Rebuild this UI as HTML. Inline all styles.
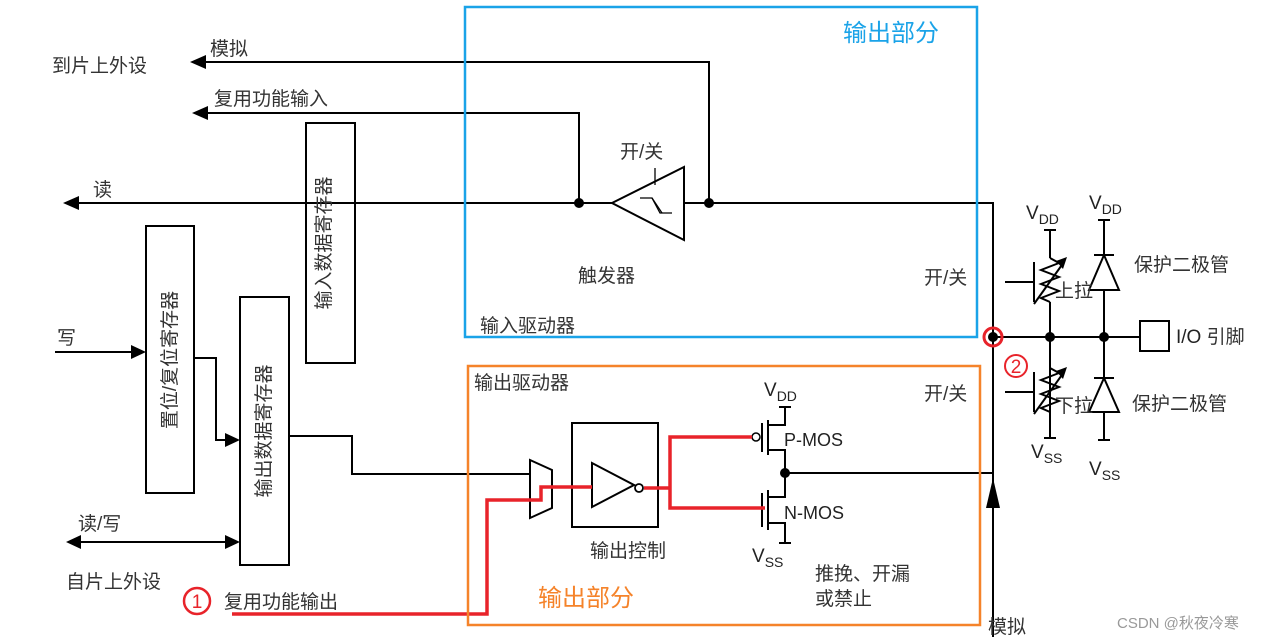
<!DOCTYPE html>
<html><head><meta charset="utf-8"><style>
html,body{margin:0;padding:0;background:#fff;}
svg{display:block;}
text{font-family:"Liberation Sans","Noto Sans CJK SC",sans-serif;fill:#222;}
.cn{font-size:19px;fill:#333;}
</style></head><body>
<svg width="1269" height="641" viewBox="0 0 1269 641" xmlns="http://www.w3.org/2000/svg">
<g stroke="#000" stroke-width="2" fill="none">
<polyline points="205,62 709,62 709,203"/>
<polyline points="207,113 579,113 579,203"/>
<line x1="78" y1="203" x2="612" y2="203"/>
<polyline points="684,203 993,203 993,637"/>
<rect x="306" y="123" width="49" height="240"/>
<rect x="146" y="226" width="48" height="267"/>
<rect x="240" y="297" width="49" height="268"/>
<line x1="55" y1="352" x2="132" y2="352"/>
<polyline points="194,358 216,358 216,440 226,440"/>
<polyline points="289,436 352,436 352,474 530,474"/>
<line x1="80" y1="542" x2="226" y2="542"/>
<polygon points="612,203 684,167 684,240"/>
<line x1="655" y1="168" x2="655" y2="185" stroke-width="1.3"/>
<polyline points="640,198 652,198 660,213 672,213" stroke-width="1.3"/>
<line x1="652" y1="198" x2="662" y2="213" stroke-width="1.3"/>
<polygon points="530,460 552,470 552,508 530,518"/>
<rect x="572" y="423" width="86" height="104"/>
<polygon points="592,463 592,507 634,485"/>
<circle cx="639" cy="488" r="4" stroke-width="1.8"/>
<line x1="762" y1="423" x2="762" y2="452"/>
<line x1="768" y1="420" x2="768" y2="455"/>
<polyline points="768,425 785,425 785,407"/>
<line x1="779" y1="407" x2="791" y2="407"/>
<polyline points="768,450 785,450 785,497 768,497"/>
<line x1="762" y1="493" x2="762" y2="527"/>
<line x1="768" y1="490" x2="768" y2="530"/>
<polyline points="768,523 785,523 785,543"/>
<line x1="779" y1="543" x2="791" y2="543"/>
<circle cx="756" cy="437" r="4" stroke-width="1.5" fill="#fff"/>
<line x1="785" y1="473" x2="993" y2="473"/>
<line x1="993" y1="337" x2="1140" y2="337"/>
<rect x="1140" y="321" width="29" height="30"/>
<line x1="1044" y1="230" x2="1056" y2="230"/>
<line x1="1050" y1="230" x2="1050" y2="258"/>
<polyline points="1050,258 1059,263 1041,270 1059,277 1041,284 1059,291 1041,298 1050,302"/>
<line x1="1050" y1="302" x2="1050" y2="438"/>
<line x1="1044" y1="438" x2="1056" y2="438"/>
<line x1="1034" y1="304" x2="1064" y2="262"/>
<line x1="1005" y1="282" x2="1034" y2="282"/>
<line x1="1034" y1="262" x2="1034" y2="302"/>
<polyline points="1050,368 1059,373 1041,380 1059,387 1041,394 1059,401 1041,408 1050,412"/>
<line x1="1034" y1="414" x2="1064" y2="372"/>
<line x1="1005" y1="392" x2="1034" y2="392"/>
<line x1="1034" y1="372" x2="1034" y2="412"/>
<line x1="1098" y1="220" x2="1110" y2="220"/>
<line x1="1104" y1="220" x2="1104" y2="440"/>
<line x1="1098" y1="440" x2="1110" y2="440"/>
<line x1="1094" y1="255" x2="1114" y2="255"/>
<polygon points="1104,255 1089,290 1119,290" fill="#fff"/>
<line x1="1094" y1="378" x2="1114" y2="378"/>
<polygon points="1104,378 1089,412 1119,412" fill="#fff"/>
</g>
<g fill="#000">
<polygon points="190,62 206,55 206,69"/>
<polygon points="192,113 208,106 208,120"/>
<polygon points="63,203 79,196 79,210"/>
<polygon points="146,352 131,345 131,359"/>
<polygon points="240,440 225,433 225,447"/>
<polygon points="240,542 225,535 225,549"/>
<polygon points="66,542 81,535 81,549"/>
<polygon points="993,478 986,508 1000,508"/>
<polygon points="1067,257 1056,261 1063,269"/>
<polygon points="1067,367 1056,371 1063,379"/>
<circle cx="579" cy="203" r="5"/><circle cx="709" cy="203" r="5"/>
<circle cx="785" cy="473" r="5"/>
<circle cx="993" cy="337" r="5"/><circle cx="1050" cy="337" r="5"/><circle cx="1104" cy="337" r="5"/>
</g>
<g stroke="#e8232a" stroke-width="3.5" fill="none">
<polyline points="232,614 487,614 487,500 541,500 541,487 592,487"/>
<polyline points="644,488 670,488"/>
<polyline points="752,437 670,437 670,508 765,508"/>
<circle cx="993" cy="337" r="9" stroke-width="3"/>
</g>
<circle cx="1016" cy="366" r="11" fill="none" stroke="#e8232a" stroke-width="2"/>
<text x="1016" y="373" font-size="19" text-anchor="middle" style="fill:#e8232a">2</text>
<circle cx="197" cy="601" r="13" fill="none" stroke="#e8232a" stroke-width="2.5"/>
<text x="197" y="608" font-size="19" text-anchor="middle" style="fill:#e8232a">1</text>
<rect x="465" y="7" width="512" height="330" fill="none" stroke="#1aa3e8" stroke-width="2.5"/>
<rect x="468" y="366" width="512" height="259" fill="none" stroke="#f5832a" stroke-width="2.5"/>
<text x="843" y="41" font-size="24" style="fill:#1aa3e8">输出部分</text>
<text x="538" y="606" font-size="24" style="fill:#f5832a">输出部分</text>
<text class="cn" x="52" y="72">到片上外设</text>
<text class="cn" x="210" y="55">模拟</text>
<text class="cn" x="214" y="105">复用功能输入</text>
<text class="cn" x="93" y="196">读</text>
<text class="cn" x="57" y="344">写</text>
<text class="cn" x="78" y="530">读/写</text>
<text class="cn" x="66" y="588">自片上外设</text>
<text class="cn" x="224" y="608">复用功能输出</text>
<text class="cn" x="620" y="158">开/关</text>
<text class="cn" x="578" y="282">触发器</text>
<text class="cn" x="924" y="284">开/关</text>
<text class="cn" x="480" y="332">输入驱动器</text>
<text class="cn" x="474" y="389">输出驱动器</text>
<text class="cn" x="924" y="400">开/关</text>
<text class="cn" x="590" y="557">输出控制</text>
<text class="cn" x="815" y="580">推挽、开漏</text>
<text class="cn" x="815" y="605">或禁止</text>
<text class="cn" x="988" y="633">模拟</text>
<text class="cn" x="1134" y="271">保护二极管</text>
<text class="cn" x="1132" y="410">保护二极管</text>
<text class="cn" x="1055" y="297" font-size="15">上拉</text>
<text class="cn" x="1055" y="412" font-size="15">下拉</text>
<text x="1176" y="343" font-size="19">I/O <tspan class="cn">引脚</tspan></text>
<text x="764" y="396" font-size="19">V<tspan font-size="14" dy="5">DD</tspan></text>
<text x="784" y="446" font-size="18">P-MOS</text>
<text x="784" y="519" font-size="18">N-MOS</text>
<text x="752" y="562" font-size="19">V<tspan font-size="14" dy="5">SS</tspan></text>
<text x="1026" y="219" font-size="19">V<tspan font-size="14" dy="5">DD</tspan></text>
<text x="1089" y="209" font-size="19">V<tspan font-size="14" dy="5">DD</tspan></text>
<text x="1031" y="458" font-size="19">V<tspan font-size="14" dy="5">SS</tspan></text>
<text x="1089" y="475" font-size="19">V<tspan font-size="14" dy="5">SS</tspan></text>
<text x="1117" y="628" font-size="15" style="fill:#999">CSDN @秋夜冷寒</text>
<text class="cn" transform="translate(324,243) rotate(-90)" text-anchor="middle" dy="6">输入数据寄存器</text>
<text class="cn" transform="translate(170,360) rotate(-90)" text-anchor="middle" dy="6">置位/复位寄存器</text>
<text class="cn" transform="translate(264,431) rotate(-90)" text-anchor="middle" dy="6">输出数据寄存器</text>
</svg>
</body></html>
